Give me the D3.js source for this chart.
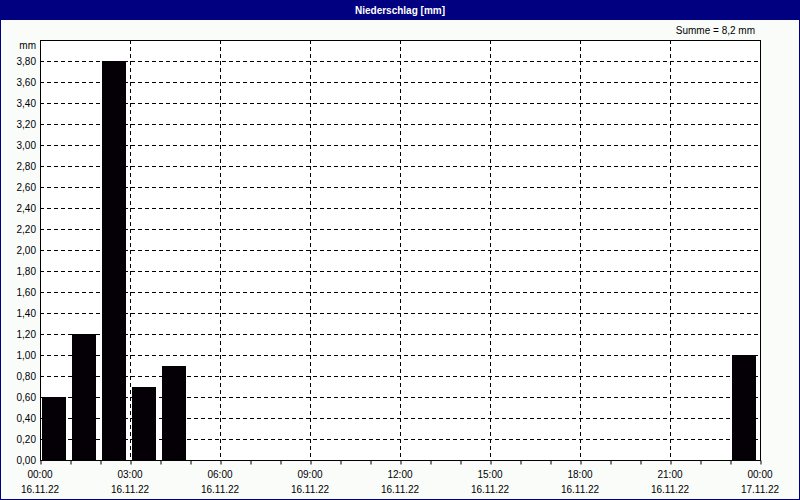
<!DOCTYPE html>
<html>
<head>
<meta charset="utf-8">
<script src="https://cdn.jsdelivr.net/npm/d3@7"></script>
<style>
  body { margin: 0; background: #fff; }
  svg { display: block; }
  text { font-family: "Liberation Sans", Arial, sans-serif; font-size: 10px; fill: #000; }
</style>
</head>
<body>
<div class="chart"></div>
<script>
// data: hourly rain on 16.11.22
var hours = [0, 1, 2, 3, 4, 23];
var rain = [0.6, 1.2, 3.8, 0.7, 0.9, 1.0];
var xTickHours = [0, 3, 6, 9, 12, 15, 18, 21, 24];
var xTimeLabels = ["00:00", "03:00", "06:00", "09:00", "12:00", "15:00", "18:00", "21:00", "00:00"];
var xDateLabels = ["16.11.22", "16.11.22", "16.11.22", "16.11.22", "16.11.22", "16.11.22", "16.11.22", "16.11.22", "17.11.22"];
var yTicks = d3.range(0, 3.81, 0.2);

var svgWidth = 800;
var svgHeight = 500;

var margin = { top: 40, right: 40, bottom: 40, left: 40 };
var width = svgWidth - margin.left - margin.right;
var height = svgHeight - margin.top - margin.bottom;

var svg = d3
  .select(".chart")
  .append("svg")
  .attr("width", svgWidth)
  .attr("height", svgHeight);

// window background + border + title bar
svg.append("rect")
  .attr("x", 0.5).attr("y", 0.5)
  .attr("width", svgWidth - 1).attr("height", svgHeight - 1)
  .attr("fill", "#fafcfa")
  .attr("stroke", "#000080");

svg.append("rect")
  .attr("x", 0).attr("y", 0)
  .attr("width", svgWidth).attr("height", 20)
  .attr("fill", "#000080");

svg.append("text")
  .attr("x", svgWidth / 2).attr("y", 14)
  .attr("text-anchor", "middle")
  .style("fill", "#fff")
  .style("font-weight", "bold")
  .text("Niederschlag [mm]");

svg.append("text")
  .attr("x", 755).attr("y", 34)
  .attr("text-anchor", "end")
  .text("Summe = 8,2 mm");

var chartGroup = svg
  .append("g")
  .attr("transform", `translate(${margin.left}, ${margin.top})`);

var xScale = d3.scaleLinear().domain([0, 24]).range([0, width]);
var yScale = d3.scaleLinear().domain([0, 4]).range([height, 0]);

// plot background
chartGroup.append("rect")
  .attr("width", width).attr("height", height)
  .attr("fill", "#fff");

// horizontal grid
chartGroup.selectAll(".hgrid")
  .data(yTicks.filter((d) => d > 0))
  .enter()
  .append("line")
  .attr("x1", 0).attr("x2", width)
  .attr("y1", (d) => Math.round(yScale(d)) + 0.5)
  .attr("y2", (d) => Math.round(yScale(d)) + 0.5)
  .attr("stroke", "#000")
  .attr("stroke-dasharray", "4,3");

// vertical grid
chartGroup.selectAll(".vgrid")
  .data(xTickHours.slice(1, -1))
  .enter()
  .append("line")
  .attr("x1", (d) => Math.round(xScale(d)) + 0.5)
  .attr("x2", (d) => Math.round(xScale(d)) + 0.5)
  .attr("y1", 0).attr("y2", height)
  .attr("stroke", "#000")
  .attr("stroke-dasharray", "4,3");

// bars
chartGroup.selectAll(".bar")
  .data(hours)
  .enter()
  .append("rect")
  .attr("x", (d) => xScale(d) + 2)
  .attr("width", (d) => xScale(d + 1) - xScale(d) - 6)
  .attr("y", (d, i) => Math.round(yScale(rain[i])))
  .attr("height", (d, i) => height - Math.round(yScale(rain[i])))
  .attr("fill", "#050005");

// frame
chartGroup.append("rect")
  .attr("x", 0.5).attr("y", 0.5)
  .attr("width", width).attr("height", height)
  .attr("fill", "none")
  .attr("stroke", "#000");

// x axis with hourly ticks
var bottomAxis = d3.axisBottom(xScale)
  .tickValues(d3.range(0, 25, 1))
  .tickSize(4)
  .tickFormat("");

var xAxis = chartGroup.append("g")
  .attr("transform", `translate(0.5, ${height + 0.5})`)
  .call(bottomAxis);
xAxis.select(".domain").remove();
xAxis.selectAll("line").attr("stroke", "#000");

chartGroup.selectAll(".xtime")
  .data(xTickHours)
  .enter()
  .append("text")
  .attr("x", (d) => xScale(d))
  .attr("y", height + 18)
  .attr("text-anchor", "middle")
  .text((d, i) => xTimeLabels[i]);

chartGroup.selectAll(".xdate")
  .data(xTickHours)
  .enter()
  .append("text")
  .attr("x", (d) => xScale(d))
  .attr("y", height + 33)
  .attr("text-anchor", "middle")
  .text((d, i) => xDateLabels[i]);

// y axis labels
chartGroup.selectAll(".ylab")
  .data(yTicks)
  .enter()
  .append("text")
  .attr("x", -4)
  .attr("y", (d) => yScale(d) + 4)
  .attr("text-anchor", "end")
  .text((d) => d.toFixed(2).replace(".", ","));

chartGroup.append("text")
  .attr("x", -4).attr("y", 9)
  .attr("text-anchor", "end")
  .text("mm");
</script>
</body>
</html>
